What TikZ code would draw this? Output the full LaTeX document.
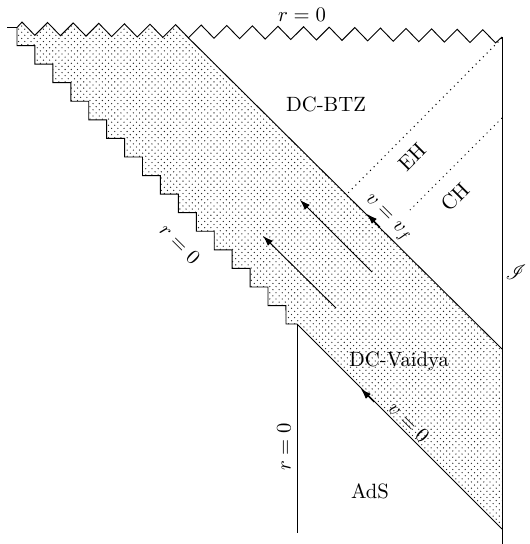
\documentclass[tikz,border=0pt]{standalone}
\usepackage{amsmath}
\usepackage{mathrsfs}
\usetikzlibrary{patterns,arrows.meta}
\pgfdeclarepatternformonly{sdots}{\pgfqpoint{-1pt}{-1pt}}{\pgfqpoint{4pt}{4pt}}{\pgfqpoint{3pt}{3pt}}{%
  \pgfpathcircle{\pgfqpoint{0pt}{0pt}}{.33pt}%
  \pgfpathcircle{\pgfqpoint{1.5pt}{1.5pt}}{.33pt}%
  \pgfusepath{fill}}
\begin{document}
\begin{tikzpicture}[x=0.017cm,y=-0.017cm,
  declare function={yb(\t)=28.5+0.01656*(\t-17);},
  bd/.style={draw=black,line width=0.45pt},
  hz/.style={draw=black,dotted,line width=0.5pt},
  lbl/.style={inner sep=0.5pt,font=\normalsize},
  flow/.style={-{Latex[length=5pt,width=3.4pt]},line width=0.45pt}]
\useasboundingbox (0,0) rectangle (530,544);
% key points
\coordinate (st) at (17,27.5);
\coordinate (sl) at (7,27.5);
\coordinate (ro) at (297,324);
\coordinate (rb) at (297,533);
\coordinate (vft) at (188.4,{yb(188.4)+6.5});
\coordinate (vfb) at (502,349);
\coordinate (vzb) at (502,529);
\coordinate (scri) at (502,37);
\coordinate (bot) at (502,544);
\coordinate (ehs) at (502,38);
\coordinate (ehe) at (347,194);
\coordinate (chs) at (502,118);
\coordinate (che) at (407,213);
% shaded strip
\fill[pattern=sdots,pattern color=black!85]
  (st) \foreach \j in {0,...,14}{ -- ({17+17.93*\j},{27+18.57*(\j+1)}) -- ({17+17.93*(\j+1)},{27+18.57*(\j+1)}) }
  -- (286,324) -- (ro) -- (vzb) -- (vfb) -- (vft)
  \foreach \k in {6,5,...,1}{ -- ({22+25.6*\k},{yb(22+25.6*\k)-6.5}) -- ({34.8+25.6*(\k-1)},{yb(34.8+25.6*(\k-1))+6.5}) }
  -- (22,{yb(22)-6.5}) -- cycle;
% singularity (top)
\draw[bd] (sl) -- (st)
  \foreach \k in {0,...,18}{ -- ({22+25.6*\k},{yb(22+25.6*\k)-6.5}) -- ({34.8+25.6*\k},{yb(34.8+25.6*\k)+6.5}) }
  -- (scri);
% staircase singularity
\draw[bd] (st) \foreach \j in {0,...,14}{ -- ({17+17.93*\j},{27+18.57*(\j+1)}) -- ({17+17.93*(\j+1)},{27+18.57*(\j+1)}) }
  -- (286,324) -- (ro);
% r=0 of AdS
\draw[bd] (ro) -- (rb);
% shells
\draw[bd] (ro) -- (vzb);
\draw[bd] (vft) -- (vfb);
% boundary
\draw[bd] (scri) -- (bot);
% horizons
\draw[hz] (ehs) -- (ehe);
\draw[hz] (chs) -- (che);
% arrows
\coordinate (a1s) at (372,272); \coordinate (a1e) at (300,200);
\coordinate (a2s) at (336,308); \coordinate (a2e) at (263,236);
\draw[flow] (a1s) -- (a1e);
\draw[flow] (a2s) -- (a2e);
\coordinate (m1s) at (380,227); \coordinate (m1e) at (367,214);
\coordinate (m2s) at (374,402); \coordinate (m2e) at (361,389);
\draw[flow] (m1s) -- (m1e);
\draw[flow] (m2s) -- (m2e);
% labels
\node[lbl] (ltop) at (302,15) {$r=0$};
\node[lbl] (lbtz) at (326,104) {DC-BTZ};
\node[lbl,rotate=45] (leh) at (412,157) {EH};
\node[lbl,rotate=45] (lch) at (455,197) {CH};
\node[lbl,rotate=-45] (lvf) at (387,219) {$v=v_f$};
\node[lbl,rotate=-45] (lstair) at (180,244) {$r=0$};
\node[lbl] (lscri) at (516,272) {$\mathscr{I}$};
\node[lbl] (lvai) at (399,361) {DC-Vaidya};
\node[lbl,rotate=-45] (lv0) at (409,422) {$v=0$};
\node[lbl,rotate=90] (lr0) at (284,447) {$r=0$};
\node[lbl] (lads) at (370,491) {AdS};
\end{tikzpicture}
\end{document}
